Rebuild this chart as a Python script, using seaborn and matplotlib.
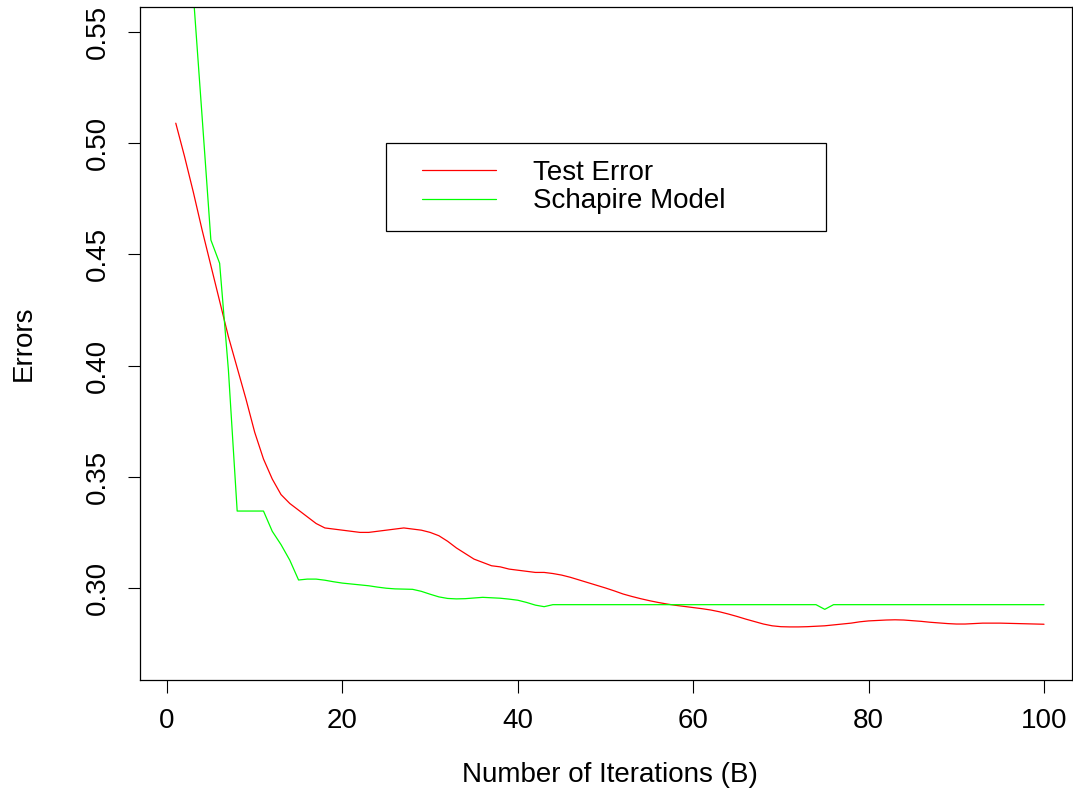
import numpy as np
import pandas as pd
import matplotlib
matplotlib.use("Agg")
import matplotlib.pyplot as plt
from matplotlib.legend_handler import HandlerLine2D
import seaborn as sns

iterations = list(range(1, 101))

test_error = [
    0.509, 0.494, 0.478, 0.461, 0.445, 0.429, 0.413, 0.399, 0.385, 0.370,
    0.358, 0.349, 0.342, 0.338, 0.335, 0.332, 0.329, 0.327, 0.3265, 0.326,
    0.3255, 0.325, 0.325, 0.3255, 0.326, 0.3265, 0.327, 0.3265, 0.326, 0.325,
    0.3235, 0.321, 0.318, 0.3155, 0.313, 0.3115, 0.310, 0.3095, 0.3085, 0.308,
    0.3075, 0.307, 0.307, 0.3065, 0.3058, 0.3048, 0.3036, 0.3024, 0.3012, 0.3000,
    0.2987, 0.2973, 0.2962, 0.2952, 0.2943, 0.2935, 0.2928, 0.2922, 0.2917, 0.2912,
    0.2907, 0.2901, 0.2893, 0.2883, 0.2872, 0.2860, 0.2849, 0.2838, 0.2830, 0.2826,
    0.2825, 0.2825, 0.2826, 0.2828, 0.283, 0.2834, 0.2838, 0.2842, 0.2848, 0.2852,
    0.2854, 0.2856, 0.2857, 0.2856, 0.2853, 0.285, 0.2846, 0.2843, 0.284, 0.2838,
    0.2838, 0.284, 0.2842, 0.2842, 0.2842, 0.2841, 0.284, 0.2839, 0.2838, 0.2837,
]

schapire_model = [
    0.68, 0.62, 0.567, 0.512, 0.4565, 0.446, 0.398, 0.3346, 0.3346, 0.3346,
    0.3346, 0.3255, 0.3195, 0.3125, 0.3036, 0.304, 0.304, 0.3035, 0.3028, 0.3022,
    0.3018, 0.3014, 0.301, 0.3004, 0.2999, 0.2996, 0.2995, 0.2994, 0.2985, 0.2972,
    0.296, 0.2953, 0.2951, 0.2952, 0.2955, 0.2958, 0.2956, 0.2954, 0.295, 0.2945,
    0.2935, 0.2923, 0.2916, 0.2925, 0.2925, 0.2925, 0.2925, 0.2925, 0.2925, 0.2925,
    0.2925, 0.2925, 0.2925, 0.2925, 0.2925, 0.2925, 0.2925, 0.2925, 0.2925, 0.2925,
    0.2925, 0.2925, 0.2925, 0.2925, 0.2925, 0.2925, 0.2925, 0.2925, 0.2925, 0.2925,
    0.2925, 0.2925, 0.2925, 0.2925, 0.2904, 0.2925, 0.2925, 0.2925, 0.2925, 0.2925,
    0.2925, 0.2925, 0.2925, 0.2925, 0.2925, 0.2925, 0.2925, 0.2925, 0.2925, 0.2925,
    0.2925, 0.2925, 0.2925, 0.2925, 0.2925, 0.2925, 0.2925, 0.2925, 0.2925, 0.2925,
]

series_names = ["Test Error", "Schapire Model"]
series_colors = ["#FF0000", "#00FF00"]
x_ticks = [0, 20, 40, 60, 80, 100]
y_ticks = [0.30, 0.35, 0.40, 0.45, 0.50, 0.55]

df = pd.DataFrame({
    "B": iterations * 2,
    "err": test_error + schapire_model,
    "series": [series_names[0]] * 100 + [series_names[1]] * 100,
})

sns.set_theme(style="white")
plt.rcParams["font.family"] = ["Liberation Sans", "DejaVu Sans"]
plt.rcParams["text.color"] = "black"

W, H = 1073, 792
fig = plt.figure(figsize=(W / 100, H / 100), dpi=100)
ax = fig.add_axes([140 / W, 1 - 680 / H, (1072 - 140) / W, (680 - 7) / H])

sns.lineplot(data=df, x="B", y="err", hue="series", hue_order=series_names,
             palette=series_colors, linewidth=0.9, ax=ax, legend=True)

ax.set_xlim(-3.08, 103.19)
ax.set_ylim(0.25863, 0.56124)
ax.set_xticks(x_ticks)
ax.set_xticklabels([str(t) for t in x_ticks])
ax.set_yticks(y_ticks)
ax.set_yticklabels([f"{t:.2f}" for t in y_ticks], rotation=90, va="center")

for s in ax.spines.values():
    s.set_visible(True)
    s.set_color("black")
    s.set_linewidth(0.9)

ax.tick_params(axis="both", which="major", direction="out", length=9,
               width=0.8, color="black", labelsize=20, labelcolor="black",
               bottom=True, left=True)
ax.tick_params(axis="x", pad=11)
ax.tick_params(axis="y", pad=12)

ax.set_xlabel("Number of Iterations (B)", fontsize=20, color="black")
ax.set_ylabel("Errors", fontsize=20, color="black")
ax.xaxis.set_label_coords((610 - 140) / 932, -0.122)
ax.yaxis.set_label_coords(-0.111, 0.5)


class InsetLine(HandlerLine2D):
    def __init__(self, inset, **kw):
        super().__init__(**kw)
        self.inset = inset

    def get_xdata(self, legend, xdescent, ydescent, width, height, fontsize):
        x0 = -xdescent + self.inset * fontsize
        x1 = -xdescent + width
        return np.array([x0, x1]), np.array([(x0 + x1) / 2])


fs_px = 20 * 100 / 72
bpad = 0.6
hbox_w = (496 - 386) / fs_px - bpad
inset = (422 - 386) / fs_px - bpad

handles, labels = ax.get_legend_handles_labels()
top_ax = (680 - 143) / 673
bot_ax = (680 - 232) / 673
leg = ax.legend(handles, labels, loc="upper left",
                bbox_to_anchor=((386 - 140) / 932, bot_ax, (826 - 386) / 932, top_ax - bot_ax),
                mode="expand", fontsize=20, frameon=True, fancybox=False,
                framealpha=1, edgecolor="black", borderpad=bpad,
                handlelength=hbox_w, handletextpad=(533 - 496) / fs_px,
                labelspacing=0.1, borderaxespad=0.0,
                handler_map={h: InsetLine(inset) for h in handles})
leg.get_frame().set_linewidth(0.9)
for line in leg.get_lines():
    line.set_linewidth(0.9)
for t in leg.get_texts():
    t.set_color("black")

fig.savefig("out.png", dpi=100)
